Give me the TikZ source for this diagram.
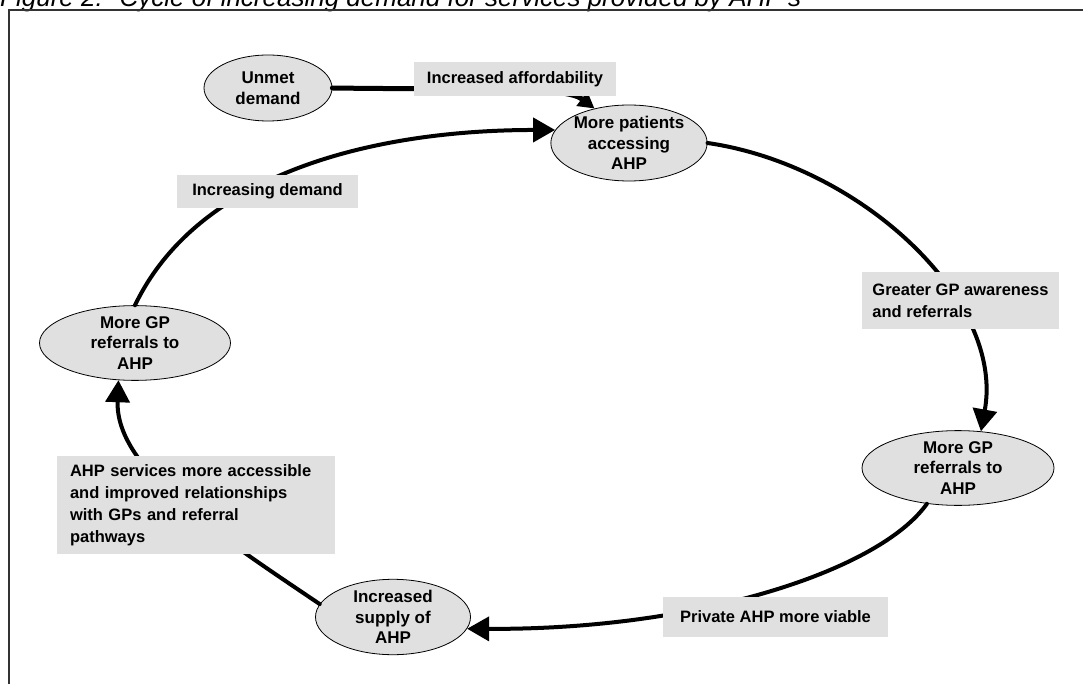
\documentclass[tikz,border=0pt]{standalone}
\usepackage{fontspec}
\setmainfont{Liberation Sans}
\usepackage{xcolor}
\usetikzlibrary{arrows.meta,shapes.geometric}
\definecolor{boxgrey}{HTML}{E0E0E0}
\definecolor{framegrey}{HTML}{333333}

\begin{document}
\begin{tikzpicture}[x=1pt, y=-1pt, line cap=round,
  stage/.style={ellipse, draw=black, line width=0.8pt, fill=boxgrey, inner sep=0pt,
    align=center, font=\bfseries\fontsize{17}{20.5}\selectfont},
  cue/.style={fill=boxgrey, inner xsep=13pt, inner ysep=0pt, align=left,
    font=\bfseries\fontsize{16.5}{22}\selectfont},
  flow/.style={line width=4pt, -{Triangle[length=22pt, width=24pt]}}]
  \useasboundingbox (0,0) rectangle (1083,684);

  % Title and frame
  \node[anchor=base west, inner sep=0pt, font=\itshape\fontsize{26}{30}\selectfont]
    (title) at (0,7) {Figure 2:~ Cycle of increasing demand for services provided by AHP's};
  \draw[framegrey, line width=1.5pt] (9,10) rectangle (1100,700);

  % Stages
  \node[stage, minimum width=128, minimum height=66] (unmet) at (268,88) {Unmet\\demand};
  \node[stage, minimum width=154, minimum height=76] (patients) at (629,143) {More patients\\accessing\\AHP};
  \node[stage, minimum width=192, minimum height=73] (rightgp) at (958,468) {More GP\\referrals to\\AHP};
  \node[stage, minimum width=155, minimum height=68] (supply) at (393,617) {Increased\\supply of\\AHP};
  \node[stage, minimum width=191, minimum height=73] (leftgp) at (135,343) {More GP\\referrals to\\AHP};

  % Arrows
  \draw[line width=5pt, -{Triangle[length=16pt, width=17pt]}]
    (unmet.east) .. controls (480,90) and (565,86) .. (patients.135);
  \draw[flow] (leftgp.north) .. controls (200,170) and (380,130) .. (patients.170);
  \draw[flow] (patients.east) .. controls (860,165) and (1005,300) .. (rightgp.58);
  \draw[flow] (rightgp.-131) .. controls (880,570) and (700,630) .. (supply.-9);
  \draw[flow] (supply.170) .. controls (225,540) and (115,470) .. (leftgp.-114);

  % Labels
  \node[cue, minimum width=188, minimum height=34] (afford) at (515,79) {Increased affordability};
  \node[cue, minimum width=181, minimum height=33] (demand) at (267.5,191.5) {Increasing demand};
  \node[cue, inner xsep=10pt, minimum width=195, minimum height=57] (aware) at (960.5,300.5) {Greater GP awareness\\and referrals};
  \node[cue, minimum width=225, minimum height=40] (viable) at (775.5,617) {Private AHP more viable};
  \node[cue, text width=252, minimum height=98] (access) at (196,505) {AHP services more accessible\\and improved relationships\\with GPs and referral\\pathways};
\end{tikzpicture}
\end{document}
